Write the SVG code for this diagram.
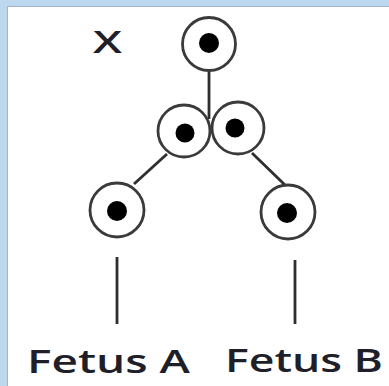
<svg xmlns="http://www.w3.org/2000/svg" width="389" height="386" viewBox="0 0 389 386">
<style>
.ring{fill:#fff;stroke:#3a3a3a;stroke-width:2.8}
.dot{fill:#000}
.edge{stroke:#2e2e2e;stroke-width:2.8;fill:none;stroke-linecap:butt}
.lbl{font-family:"Open Sans","Liberation Sans",sans-serif;font-weight:600;fill:#1f1f2a}
</style>
<rect x="0" y="0" width="389" height="386" fill="#bdd7ee"/>
<rect x="7" y="6" width="382" height="380" fill="#a3b4ca"/>
<rect x="8" y="7" width="381" height="379" fill="#fff"/>
<g id="connectors">
<line class="edge" x1="209" y1="70" x2="209" y2="119"/>
<line class="edge" x1="167" y1="154" x2="134" y2="184"/>
<line class="edge" x1="252" y1="153" x2="285" y2="185"/>
<line class="edge" x1="117" y1="257" x2="117" y2="324"/>
<line class="edge" x1="295" y1="260" x2="295" y2="324"/>
</g>
<g id="label-x"><text class="lbl" x="93" y="53" font-size="31" textLength="29" lengthAdjust="spacingAndGlyphs">X</text></g>
<g id="node-top"><circle class="ring" cx="209" cy="44" r="26.5"/><circle class="dot" cx="209" cy="43" r="10"/></g>
<g id="node-mid-left"><circle class="ring" cx="184" cy="131" r="26"/><circle class="dot" cx="185" cy="133" r="9.5"/></g>
<g id="node-mid-right"><circle class="ring" cx="238" cy="128" r="26"/><circle class="dot" cx="235" cy="128" r="9.5"/></g>
<g id="node-fetus-a-cell"><circle class="ring" cx="117" cy="210" r="27"/><circle class="dot" cx="117" cy="211" r="10"/></g>
<g id="node-fetus-b-cell"><circle class="ring" cx="288" cy="212" r="27"/><circle class="dot" cx="287" cy="213" r="10"/></g>
<g id="label-a"><text class="lbl" x="27" y="373" font-size="33" textLength="163" lengthAdjust="spacingAndGlyphs">Fetus A</text></g>
<g id="label-b"><text class="lbl" x="225" y="372" font-size="33" textLength="158" lengthAdjust="spacingAndGlyphs">Fetus B</text></g>
</svg>
